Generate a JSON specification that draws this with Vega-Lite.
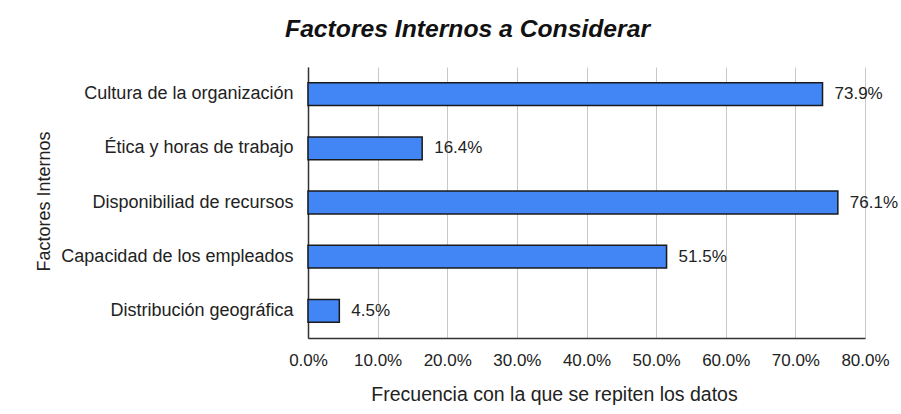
{
  "$schema": "https://vega.github.io/schema/vega-lite/v6.json",
  "autosize": {"type": "none"},
  "padding": {"left": 308, "top": 67, "right": 36, "bottom": 76},
  "width": 557,
  "height": 271,
  "background": "white",
  "config": {
    "font": "Liberation Sans",
    "view": {"stroke": null},
    "axis": {"labelFont": "Liberation Sans", "titleFont": "Liberation Sans", "labelColor": "#222222", "titleColor": "#222222", "titleFontWeight": "normal"}
  },
  "title": {
    "text": "Factores Internos a Considerar",
    "font": "Liberation Sans",
    "fontSize": 24.7,
    "fontStyle": "italic",
    "fontWeight": "bold",
    "color": "#111111",
    "anchor": "middle",
    "frame": "bounds",
    "offset": 25,
    "dx": 1
  },
  "data": {
    "values": [
      {"factor": "Cultura de la organización", "freq": 0.739},
      {"factor": "Ética y horas de trabajo", "freq": 0.164},
      {"factor": "Disponibiliad de recursos", "freq": 0.761},
      {"factor": "Capacidad de los empleados", "freq": 0.515},
      {"factor": "Distribución geográfica", "freq": 0.045}
    ]
  },
  "encoding": {
    "y": {
      "field": "factor",
      "type": "nominal",
      "sort": null,
      "scale": {"paddingInner": 0.58, "paddingOuter": 0.29},
      "axis": {
        "title": "Factores Internos",
        "titleFontSize": 18,
        "titleX": -259,
        "titleY": 134,
        "titleAngle": -90,
        "titleBaseline": "alphabetic",
        "titleAlign": "center",
        "labelFontSize": 18,
        "labelPadding": 15,
        "labelLimit": 300,
        "ticks": false,
        "domainColor": "#333333",
        "domainWidth": 1.5,
        "grid": false
      }
    },
    "x": {
      "field": "freq",
      "type": "quantitative",
      "scale": {"domain": [0, 0.8], "nice": false},
      "axis": {
        "title": "Frecuencia con la que se repiten los datos",
        "titleFontSize": 19.5,
        "titleX": 246,
        "titleY": 62,
        "titleBaseline": "alphabetic",
        "labelFontSize": 17,
        "labelPadding": 14,
        "labelOverlap": false,
        "labelFlush": false,
        "format": ".1%",
        "values": [0, 0.1, 0.2, 0.3, 0.4, 0.5, 0.6, 0.7, 0.8],
        "ticks": false,
        "domainColor": "#333333",
        "domainWidth": 1.5,
        "gridColor": "#c8c8c8",
        "gridWidth": 1
      }
    }
  },
  "layer": [
    {
      "mark": {"type": "bar", "fill": "#4285F4", "stroke": "#1a1a1a", "strokeWidth": 1.5}
    },
    {
      "mark": {"type": "text", "align": "left", "baseline": "middle", "dx": 12, "fontSize": 17, "color": "#222222", "font": "Liberation Sans"},
      "encoding": {"text": {"field": "freq", "type": "quantitative", "format": ".1%"}}
    }
  ]
}
